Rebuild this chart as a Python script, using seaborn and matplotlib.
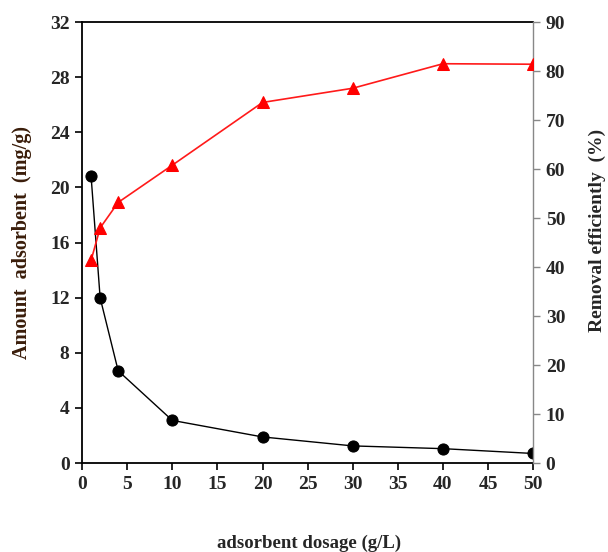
import pandas as pd
import matplotlib
matplotlib.use('Agg')
import matplotlib.pyplot as plt
import seaborn as sns

# values
dosage = [1, 2, 4, 10, 20, 30, 40, 50]
amount_adsorbed = [20.8, 12.0, 6.7, 3.1, 1.9, 1.25, 1.05, 0.7]
removal_eff = [41.4, 48.0, 53.2, 60.8, 73.6, 76.5, 81.5, 81.4]

x_ticks = [0, 5, 10, 15, 20, 25, 30, 35, 40, 45, 50]
left_ticks = [0, 4, 8, 12, 16, 20, 24, 28, 32]
right_ticks = [0, 10, 20, 30, 40, 50, 60, 70, 80, 90]

data = pd.DataFrame({'dosage': dosage, 'amount': amount_adsorbed, 'removal': removal_eff})

sns.set_style('white')
plt.rcParams['font.family'] = ['Liberation Serif', 'DejaVu Serif']
plt.rcParams['font.weight'] = 'bold'

fig = plt.figure(figsize=(6.08, 5.52), dpi=100)
ax = fig.add_axes([0.135, 0.161, 0.742, 0.799])
ax2 = ax.twinx()

# amount adsorbed (left axis)
sns.lineplot(data=data, x='dosage', y='amount', ax=ax, color='black', linewidth=1.0,
             marker='o', markersize=8, markeredgecolor='black', zorder=3)

# removal efficiency (right axis)
sns.lineplot(data=data, x='dosage', y='removal', ax=ax2, color='#ff1a1a', linewidth=1.2,
             marker='^', markersize=9, markeredgecolor='red', markerfacecolor='red', zorder=3)

ax.set_xlim(0, 50)
ax.set_ylim(0, 32)
ax2.set_ylim(0, 90)
ax.set_xticks(x_ticks)
ax.set_yticks(left_ticks)
ax2.set_yticks(right_ticks)

for a in (ax, ax2):
    for s in a.spines.values():
        s.set_visible(False)
ax.spines['left'].set_visible(True)
ax.spines['bottom'].set_visible(True)
ax.spines['top'].set_visible(True)
ax2.spines['right'].set_visible(True)
for s in ('left', 'bottom', 'top'):
    ax.spines[s].set_color('black')
    ax.spines[s].set_linewidth(1.3)
ax2.spines['right'].set_color('#888888')
ax2.spines['right'].set_linewidth(1.0)

ax.tick_params(axis='both', direction='out', length=5, width=1.2, color='black',
               labelsize=14, pad=4, bottom=True, left=True)
ax2.tick_params(axis='y', direction='out', length=5, width=1.0, color='#888888',
                labelsize=14, pad=4, right=True)
for lab in ax.get_xticklabels() + ax.get_yticklabels() + ax2.get_yticklabels():
    lab.set_fontweight('bold')

ax.set_xlabel('')
ax.set_ylabel('')
ax2.set_ylabel('')
fig.text(0.508, 0.016, 'adsorbent dosage (g/L)', ha='center', va='center',
         fontsize=13.5, fontweight='bold')
fig.text(0.036, 0.56, 'Amount  adsorbent  (mg/g)', ha='center', va='center',
         rotation=90, fontsize=14.5, fontweight='bold', color='#3a1d0a')
fig.text(0.982, 0.582, 'Removal efficiently  (%)', ha='center', va='center',
         rotation=90, fontsize=14, fontweight='bold')

ax.grid(False)
ax2.grid(False)

plt.savefig('out.png', dpi=100)
